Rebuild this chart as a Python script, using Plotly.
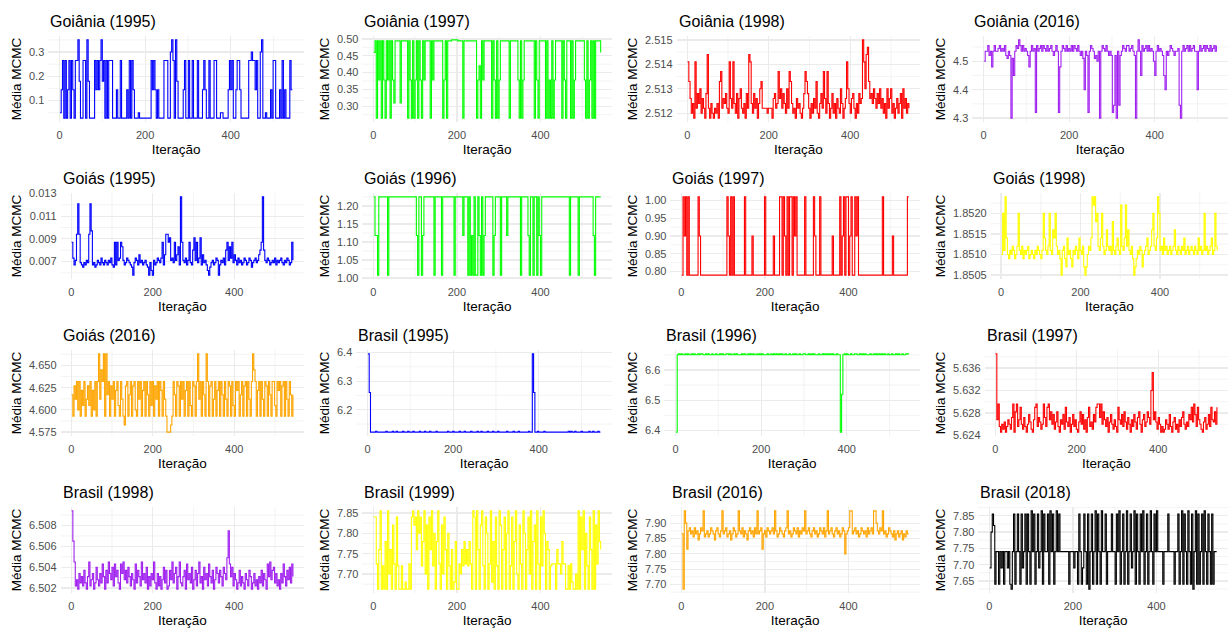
import plotly.graph_objects as go

W, H = 1232, 628

# ---------------- data ----------------
panel_titles = [
    "Goiânia (1995)", "Goiânia (1997)", "Goiânia (1998)", "Goiânia (2016)",
    "Goiás (1995)", "Goiás (1996)", "Goiás (1997)", "Goiás (1998)",
    "Goiás (2016)", "Brasil (1995)", "Brasil (1996)", "Brasil (1997)",
    "Brasil (1998)", "Brasil (1999)", "Brasil (2016)", "Brasil (2018)",
]
line_colors = [
    "#0000FF", "#00FF00", "#FF0000", "#A020F0",
    "#0000FF", "#00FF00", "#FF0000", "#FFFF00",
    "#FFA500", "#0000FF", "#00FF00", "#FF0000",
    "#A020F0", "#FFFF00", "#FFA500", "#000000",
]
iteration_step = 3          # one stored value every 3 MCMC iterations
x_ticks = [0, 200, 400]
x_minor = [100, 300, 500]

goiania_1995_levels = {"0": 0.028, "1": 0.145, "2": 0.265, "3": 0.35, "4": 0.18, "5": 0.30, "6": 0.05}
goiania_1995_chain = ("6120201202" "1022340022" "0340000212" "1234202022" "2000100200" "0010202100"
                      "0600000000" "0212101000" "0222005320" "3400001200" "2002000200" "0121002000"
                      "2200066000" "0121200122" "1000000225" "2212005300" "6000102200" "010201000211")
goiania_1995_ticks = ["0.1", "0.2", "0.3"]

goiania_1997_levels = {"0": 0.265, "2": 0.31, "3": 0.35, "4": 0.42, "5": 0.378, "6": 0.46, "8": 0.497, "9": 0.494}
goiania_1997_chain = ("6909590950" "9590952999" "9299999095" "0905909509" "5999909599" "9999905909"
                      "9988888999" "9099999999" "9905409599" "9999095090" "5999999909" "9999950905"
                      "9999999909" "5099999090" "5090599999" "0950999090" "5999999950" "9059090999" "96")
goiania_1997_ticks = ["0.30", "0.35", "0.40", "0.45", "0.50"]

goiania_1998_levels = {"0": 2.5118, "1": 2.5120, "2": 2.5122, "3": 2.5124, "4": 2.5126, "5": 2.5128,
                       "6": 2.5130, "7": 2.5133, "8": 2.5137, "9": 2.5141, "a": 2.5144, "b": 2.5150, "c": 2.5147}
goiania_1998_chain = ("9741309253" "614205a203" "1021307824" "3521942931" "5046213052" "a931524036"
                      "7222212220" "4523846253" "1628731204" "2310258752" "0314271035" "2841830251"
                      "3042163024" "9631452031" "534b96ac74" "5364253624" "1306246130" "2413506241" "32")
goiania_1998_ticks = ["2.512", "2.513", "2.514", "2.515"]

goiania_2016_levels = {"0": 4.30, "1": 4.32, "2": 4.345, "3": 4.40, "4": 4.45, "5": 4.48, "6": 4.50,
                       "7": 4.52, "8": 4.535, "9": 4.555, "a": 4.575, "b": 4.545, "c": 4.51}
goiania_2016_chain = ("6889785898" "8b98b897c8" "70c489ba98" "98b875898b" "198b989b89" "8b98789815"
                      "89b898b898" "9b89878c38" "7189b8c768" "089b898787" "127082789b" "8998b98708"
                      "a8498b9898" "b864898b87" "438789b878" "8b20898b98" "98b9883898" "b989b898b9" "89")
goiania_2016_ticks = ["4.3", "4.4", "4.5"]

goias_1995_levels = {"0": 0.0058, "1": 0.0062, "2": 0.0065, "3": 0.0067, "4": 0.0069, "5": 0.0071,
                     "6": 0.0073, "7": 0.0076, "8": 0.0080, "9": 0.0087, "a": 0.0094, "b": 0.0121,
                     "c": 0.0127, "d": 0.0083, "e": 0.0091, "f": 0.0097}
goias_1995_chain = ("9635aba432" "4354abf342" "3543643543" "5463293956" "9d53465432" "0465374534"
                    "5320410534" "6546937aa9" "e564957d3c" "9546359438" "e5946e3745" "3102453465"
                    "035463895d" "6947536453" "4653465245" "645789c854" "6534546354" "5643546534" "95")
goias_1995_ticks = ["0.007", "0.009", "0.011", "0.013"]

goias_1996_levels = {"0": 1.008, "5": 1.118, "9": 1.225}
goias_1996_chain = ("9550999999" "9099999999" "9999999999" "9999509905" "9999999909" "9999099999"
                    "9999099999" "9599909050" "9009509059" "9999905999" "9099995999" "9999999099"
                    "9995099099" "0950999999" "9999999999" "9999990999" "9990999999" "9999950999" "99")
goias_1996_ticks = ["1.00", "1.05", "1.10", "1.15", "1.20"]

goias_1997_levels = {"0": 0.79, "5": 0.90, "9": 1.01}
goias_1997_chain = ("0959090000" "0009500000" "0000000000" "0000009509" "0900000000" "9000005000"
                    "0000009000" "0005000099" "0950909909" "5900000090" "0000095000" "9000000000"
                    "5000009059" "0990590095" "9000000000" "0000000000" "9000000050" "0000000000" "99")
goias_1997_ticks = ["0.80", "0.85", "0.90", "0.95", "1.00"]

goias_1998_levels = {"0": 1.8505, "1": 1.8507, "2": 1.8509, "3": 1.8510, "4": 1.8511, "5": 1.8512,
                     "6": 1.8514, "7": 1.8516, "8": 1.8518, "9": 1.8520, "a": 1.8522, "b": 1.8524}
goias_1998_chain = ("394b632435" "4235943524" "3452343243" "5432496435" "9437695342" "0452163421"
                    "4354264351" "013546bab8" "9546953475" "4538435643" "a546a57435" "2012435413"
                    "4563457954" "6b94536453" "4534574354" "3546345345" "4354364534" "9453456349" "54")
goias_1998_ticks = ["1.8505", "1.8510", "1.8515", "1.8520"]

goias_2016_levels = {"0": 4.593, "1": 4.600, "2": 4.605, "3": 4.612, "4": 4.617, "5": 4.622,
                     "6": 4.627, "7": 4.632, "8": 4.645, "9": 4.663, "a": 4.575, "b": 4.583}
goias_2016_chain = ("4063717052" "7036270517" "0793879094" "7063705720" "730b670470" "6710737057"
                    "0740727063" "70750730aa" "ab07407607" "3705707207" "6079370740" "9706703705"
                    "7074073076" "0720757047" "0670730798" "7057073076" "0740772075" "7067073074" "04")
goias_2016_ticks = ["4.575", "4.600", "4.625", "4.650"]

brasil_1995_levels = {"0": 6.122, "1": 6.125, "2": 6.26, "3": 6.395}
brasil_1995_chain = ("3200001000" "0000100001" "0010000100" "0100010000" "1000100010" "0001000000"
                     "0010001000" "0100010000" "1000010010" "0001000100" "0100000010" "0001000100"
                     "0000010032" "0010000100" "0000000000" "0000001010" "0100001000" "0010010001" "00")
brasil_1995_ticks = ["6.2", "6.3", "6.4"]

brasil_1996_levels = {"0": 6.395, "1": 6.52, "2": 6.650, "3": 6.653}
brasil_1996_chain = ("0232322323" "2232322323" "3223232232" "2322323223" "3232232322" "2323223232"
                     "3223232322" "2322323232" "3232232232" "2323223223" "3223232322" "2322323232"
                     "3232232201" "2323223223" "3223232322" "2322323232" "3232232232" "2323223223" "32")
brasil_1996_ticks = ["6.4", "6.5", "6.6"]

brasil_1997_levels = {"0": 5.6246, "1": 5.6251, "2": 5.6256, "3": 5.6260, "4": 5.6264, "5": 5.6268,
                      "6": 5.6272, "7": 5.6277, "8": 5.6282, "9": 5.6290, "a": 5.6296, "b": 5.6320,
                      "c": 5.6352, "d": 5.6385}
brasil_1997_chain = ("d5a2031402" "5316a08a25" "9316203741" "059a26413a" "629a583714" "8205371942"
                     "6037251048" "3715069241" "749aa6a385" "2604731520" "9537284163" "0527416830"
                     "5724863bc5" "8416302015" "3172046130" "5268314275" "94a7295310" "4613729548" "39")
brasil_1997_ticks = ["5.624", "5.628", "5.632", "5.636"]

brasil_1998_levels = {"0": 6.5019, "1": 6.5022, "2": 6.5025, "3": 6.5028, "4": 6.5031, "5": 6.5034,
                      "6": 6.5037, "7": 6.5040, "8": 6.5043, "9": 6.5045, "a": 6.5049, "b": 6.5065,
                      "c": 6.5075, "d": 6.5094}
brasil_1998_chain = ("db91305241" "6204913502" "7315284062" "9537184620" "8593627415" "3082641935"
                     "2704153920" "5140372601" "6392570492" "1460835270" "3615924073" "5184260375"
                     "2641753ac8" "4715302614" "2053164025" "1304261530" "8493672513" "0528416372" "84")
brasil_1998_ticks = ["6.502", "6.504", "6.506", "6.508"]

brasil_1999_levels = {"0": 7.663, "1": 7.68, "2": 7.70, "3": 7.72, "4": 7.725, "5": 7.76, "6": 7.78,
                      "7": 7.80, "8": 7.82, "9": 7.84, "a": 7.855}
brasil_1999_chain = ("99405a0306" "0a25084093" "0030010040" "9a895a7936" "a28095a370" "6a40829507"
                     "3050160042" "536453640a" "90a508a309" "704a160930" "a805907a03" "906a20840a"
                     "70592a0680" "a4093a7065" "0344405442" "6440030410" "020a095a07" "30950a084a" "65")
brasil_1999_ticks = ["7.70", "7.75", "7.80", "7.85"]

brasil_2016_levels = {"0": 7.685, "1": 7.80, "2": 7.815, "3": 7.835, "4": 7.845, "5": 7.855,
                      "6": 7.865, "7": 7.875, "8": 7.885, "9": 7.90, "a": 7.94}
brasil_2016_chain = ("60a9278675" "8674687a56" "7568764786" "57a6785674" "68756a7685" "7647867586"
                     "a678267587" "6786a75687" "6578a67568" "76857687a6" "7865786756" "876857a678"
                     "6578675687" "1678aa6786" "7568767586" "786aa97687" "a675687657" "4675674657" "66")
brasil_2016_ticks = ["7.70", "7.75", "7.80", "7.85", "7.90"]

brasil_2018_levels = {"0": 7.625, "1": 7.64, "2": 7.69, "3": 7.74, "4": 7.78, "5": 7.80,
                      "6": 7.82, "7": 7.855, "8": 7.865, "9": 7.70}
brasil_2018_chain = ("2576133132" "3133231037" "1373172371" "7318371372" "3817337183" "7138373333"
                     "3331333233" "1731273170" "3713817318" "3371333733" "1738137138" "1372381731"
                     "7381371383" "1738333313" "3373333133" "7138173183" "1703817137" "1831731713" "33")
brasil_2018_ticks = ["7.65", "7.70", "7.75", "7.80", "7.85"]

chains = [
    (goiania_1995_levels, goiania_1995_chain, goiania_1995_ticks),
    (goiania_1997_levels, goiania_1997_chain, goiania_1997_ticks),
    (goiania_1998_levels, goiania_1998_chain, goiania_1998_ticks),
    (goiania_2016_levels, goiania_2016_chain, goiania_2016_ticks),
    (goias_1995_levels, goias_1995_chain, goias_1995_ticks),
    (goias_1996_levels, goias_1996_chain, goias_1996_ticks),
    (goias_1997_levels, goias_1997_chain, goias_1997_ticks),
    (goias_1998_levels, goias_1998_chain, goias_1998_ticks),
    (goias_2016_levels, goias_2016_chain, goias_2016_ticks),
    (brasil_1995_levels, brasil_1995_chain, brasil_1995_ticks),
    (brasil_1996_levels, brasil_1996_chain, brasil_1996_ticks),
    (brasil_1997_levels, brasil_1997_chain, brasil_1997_ticks),
    (brasil_1998_levels, brasil_1998_chain, brasil_1998_ticks),
    (brasil_1999_levels, brasil_1999_chain, brasil_1999_ticks),
    (brasil_2016_levels, brasil_2016_chain, brasil_2016_ticks),
    (brasil_2018_levels, brasil_2018_chain, brasil_2018_ticks),
]

# ---------------- styling ----------------
FONT = "Liberation Sans, Arial, sans-serif"
GRID = "#EBEBEB"
TICK_COLOR = "#4D4D4D"
CELL_W, CELL_H = W / 4, H / 4


def label_width(s):
    return sum(6.12 if ch.isdigit() else 3.06 for ch in s)


fig = go.Figure()
layout = dict(
    width=W, height=H, template="none",
    margin=dict(l=0, r=0, t=0, b=0),
    paper_bgcolor="white", plot_bgcolor="white",
    showlegend=False, font=dict(family=FONT, color="black"),
    annotations=[], shapes=[],
)

for i, (levels, chain, ticks) in enumerate(chains):
    r, c = divmod(i, 4)
    sfx = "" if i == 0 else str(i + 1)
    xa, ya = "x" + sfx, "y" + sfx
    y = [levels[ch] for ch in chain]
    x = [1 + iteration_step * k for k in range(len(y))]

    fig.add_trace(go.Scatter(
        x=x, y=y, mode="lines", xaxis=xa, yaxis=ya,
        line=dict(color=line_colors[i], width=1.1, shape="hv"), hoverinfo="skip",
    ))

    # ggplot-like 5% expansion
    xmin, xmax = min(x), max(x)
    xpad = 0.05 * (xmax - xmin)
    ymin, ymax = min(y), max(y)
    ypad = 0.05 * (ymax - ymin)
    yr = [ymin - ypad, ymax + ypad]

    tvals = [float(t) for t in ticks]
    step = tvals[1] - tvals[0]
    cand = [tvals[0] - step / 2] + [t + step / 2 for t in tvals]
    yminor = [v for v in cand if yr[0] <= v <= yr[1]]

    # minor grid lines (thin), drawn below the data
    for v in yminor:
        layout["shapes"].append(dict(
            type="line", xref=xa + " domain", yref=ya, x0=0, x1=1, y0=v, y1=v,
            line=dict(color=GRID, width=0.6), layer="below"))
    for v in x_minor:
        layout["shapes"].append(dict(
            type="line", xref=xa, yref=ya + " domain", x0=v, x1=v, y0=0, y1=1,
            line=dict(color=GRID, width=0.6), layer="below"))

    left = c * CELL_W + 33 + max(label_width(t) for t in ticks)
    right = (c + 1) * CELL_W - 4
    top = r * CELL_H + 36
    bottom = r * CELL_H + 122

    layout["xaxis" + sfx] = dict(
        domain=[left / W, right / W], anchor=ya,
        range=[xmin - xpad, xmax + xpad],
        tickmode="array", tickvals=x_ticks, ticktext=[str(t) for t in x_ticks],
        showgrid=True, gridcolor=GRID, gridwidth=1.2,
        zeroline=False, showline=False, ticks="",
        tickfont=dict(size=11, color=TICK_COLOR, family=FONT),
        ticklabelstandoff=5,
        title=dict(text="Iteração", font=dict(size=13.5, color="black", family=FONT), standoff=4),
        automargin=False, fixedrange=True,
    )
    layout["yaxis" + sfx] = dict(
        domain=[1 - bottom / H, 1 - top / H], anchor=xa,
        range=yr,
        tickmode="array", tickvals=tvals, ticktext=ticks,
        showgrid=True, gridcolor=GRID, gridwidth=1.2,
        zeroline=False, showline=False, ticks="",
        tickfont=dict(size=11, color=TICK_COLOR, family=FONT),
        ticklabelstandoff=3,
        title=dict(text="Média MCMC", font=dict(size=13.5, color="black", family=FONT), standoff=4),
        automargin=False, fixedrange=True,
    )
    layout["annotations"].append(dict(
        text=panel_titles[i], xref="paper", yref="paper",
        x=left / W, y=1 - (r * CELL_H + 21) / H,
        xanchor="left", yanchor="middle", showarrow=False,
        font=dict(size=16, color="black", family=FONT),
    ))

fig.update_layout(**layout)
fig.write_html(
    "out.html",
    config={"displayModeBar": False, "staticPlot": True},
    post_script="document.body.style.margin='0';document.body.style.overflow='hidden';",
)
